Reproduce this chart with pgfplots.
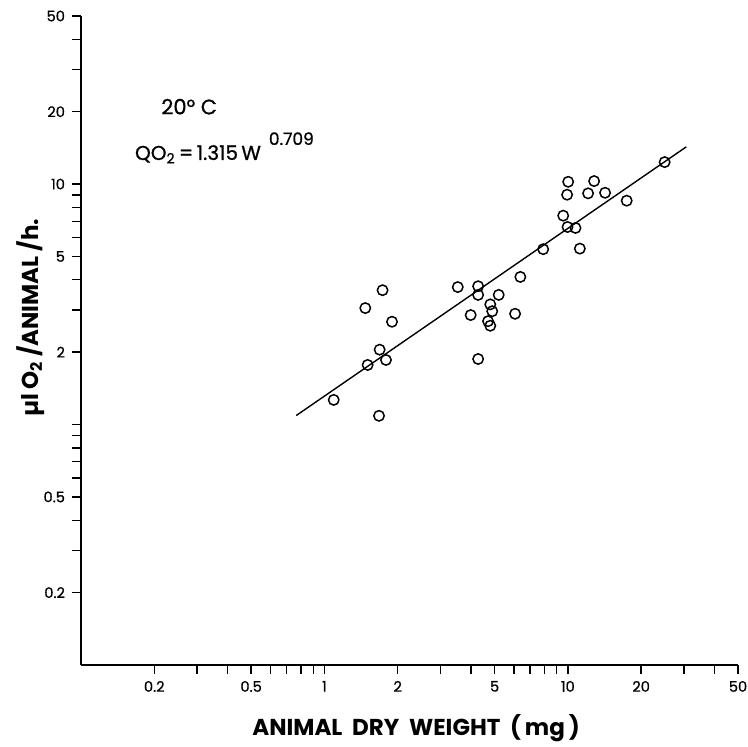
\documentclass[border=0pt]{standalone}
\usepackage{fontspec}
\setmainfont{Poppins}
\newfontfamily\medfont[FakeBold=0.8]{Poppins}
\usepackage{pgfplots}
\pgfplotsset{compat=1.18}

\begin{document}
\begin{tikzpicture}
% page size matches the reference (1px = 0.5pt)
\useasboundingbox (-40.5pt,-41pt) rectangle (333.5pt,332.5pt);
\begin{axis}[at={(0,0)},anchor=south west,scale only axis,
  width=328.5pt,height=324.5pt,
  xmode=log,ymode=log,xmin=0.1,xmax=50,ymin=0.1,ymax=50,
  axis lines=left,axis line style={-,line width=0.8pt},
  tick align=outside,major tick length=4.5pt,minor tick length=4.5pt,
  every tick/.style={black,line width=0.7pt},
  xtick={0.2,0.5,1,2,5,10,20,50},xticklabels={0.2,0.5,1,2,5,10,20,50},
  minor xtick={0.3,0.4,0.6,0.7,0.8,0.9,3,4,6,7,8,9,30,40},
  ytick={0.2,0.5,2,5,10,20,50},yticklabels={0.2,0.5,2,5,10,20,50},
  minor ytick={0.3,0.4,0.6,0.7,0.8,0.9,1,3,4,6,7,8,9,30,40},
  /pgf/number format/assume math mode=true,
  tick label style={font=\medfont\fontsize{7.3}{8}\selectfont},
  xlabel={ANIMAL\ \ DRY\ \ WEIGHT\ \ (\,mg\,)},
  ylabel={µl\,O\textsubscript{2}\ /ANIMAL\ /h.},
  xlabel style={font=\fontsize{11.5}{13}\selectfont\bfseries,
    at={(axis description cs:0.51,-0.097)},anchor=center},
  ylabel style={font=\fontsize{11.5}{13}\selectfont\bfseries,
    at={(axis description cs:-0.076,0.535)},anchor=center},
  clip=false]

% measured points
\addplot[only marks,mark=o,mark size=2.6pt,mark options={line width=0.75pt}]
  coordinates {
  (1.092,1.266) (1.472,3.05) (1.733,3.62) (1.895,2.676) (1.686,2.048)
  (1.505,1.769) (1.790,1.856) (1.676,1.087) (3.53,3.73) (4.28,3.76)
  (4.28,3.46) (3.99,2.853) (4.28,1.873) (5.20,3.46) (4.80,3.16)
  (4.89,2.96) (4.70,2.69) (4.80,2.575) (6.07,2.888) (6.38,4.11)
  (7.92,5.36) (9.97,6.63) (10.75,6.57) (9.57,7.39) (9.93,9.03)
  (10.03,10.22) (12.11,9.15) (12.82,10.29) (14.22,9.20) (11.20,5.39)
  (17.45,8.53) (24.98,12.34)};

% fitted line
\addplot[no marks,line width=0.7pt] coordinates {(0.766,1.090) (30.65,14.28)};

\node[anchor=base west,font=\medfont\fontsize{10.5}{12}\selectfont]
  at (axis cs:0.2,19.5) {20° C};
\node[anchor=base west,font=\medfont\fontsize{10}{12}\selectfont]
  at (axis cs:0.156,12.6)
  {QO\textsubscript{2}\,=\,1.315\,W\hspace{4pt}\raisebox{7.5pt}{\fontsize{8.5}{10}\selectfont 0.709}};
\end{axis}
\end{tikzpicture}
\end{document}
